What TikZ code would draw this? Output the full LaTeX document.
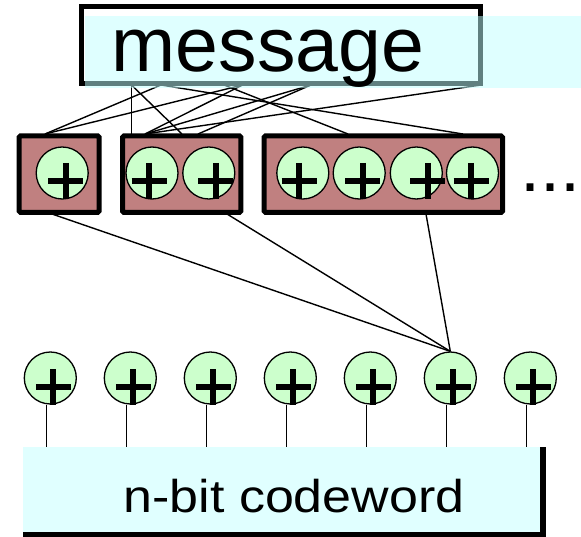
\documentclass[tikz,border=0pt]{standalone}
\usepackage{fontspec}
\setmainfont{Liberation Sans}
\definecolor{msgcyan}{RGB}{192,255,255}
\definecolor{boxcyan}{RGB}{224,255,255}
\definecolor{grpred}{RGB}{192,128,128}
\definecolor{xorgreen}{RGB}{204,255,204}
% a bold plus sign centred at (#1,#2)
\newcommand\xorplus[2]{\draw[line width=6pt] (#1-17.5,#2) -- (#1+17.5,#2) (#1,#2-18) -- (#1,#2+18);}
\begin{document}
\begin{tikzpicture}[x=1pt,y=-1pt,
  xorc/.style={circle,draw=black,line width=1.3pt,fill=xorgreen,minimum size=52pt,inner sep=0pt},
  grp/.style={draw=black,line width=5pt,fill=grpred,rounded corners=1.5pt,inner sep=0pt},
  wire/.style={draw=black,line width=1.4pt}]
\useasboundingbox (0,0) rectangle (581,537);

% attachment points under the message box
\coordinate (m1) at (131.5,85);
\coordinate (m2) at (161,85);
\coordinate (m3) at (224,85);
\coordinate (m4) at (242.6,85);
\coordinate (m5) at (311,85);
\coordinate (m6) at (481,85);
% attachment points on top of the groups
\coordinate (t1)  at (45,134);
\coordinate (t2a) at (131.5,134);
\coordinate (t2b) at (145,134);
\coordinate (t2c) at (182,134);
\coordinate (t2d) at (198,134);
\coordinate (t3a) at (348,134);
\coordinate (t3b) at (463,134);
% attachment points under the groups
\coordinate (u1) at (52,214);
\coordinate (u2) at (227,214);
\coordinate (u3) at (426,214);

% bottom row of xor gates (placed first so wires can refer to them)
\foreach \k in {0,...,6}{
  \node[xorc] (b\k) at (50.3+80*\k,378) {};
}

% message -> groups
\draw[wire] (m1) -- (t2a);
\draw[wire] (m1) -- (t2c);
\draw[wire] (m2) -- (t1);
\draw[wire] (m2) -- (t3b);
\draw[wire] (m3) -- (t3a);
\draw[wire] (m4) -- (t1);
\draw[wire] (m4) -- (t2b);
\draw[wire] (m5) -- (t2b);
\draw[wire] (m5) -- (t2d);
\draw[wire] (m6) -- (t2b);
% groups -> one codeword bit
\draw[wire] (u1) -- (b5.north);
\draw[wire] (u2) -- (b5.north);
\draw[wire] (u3) -- (b5.north);

% message box: black frame under a translucent cyan band
\draw[line width=5pt] (81.5,6.5) rectangle (480.5,83.5);
\fill[msgcyan,opacity=0.5] (85,16) rectangle (581,88);
\node[inner sep=0pt,anchor=base,font=\fontsize{77}{77}\selectfont] (msg) at (268,71.7) {message};

% groups of xor gates
\node[grp,minimum width=80pt,minimum height=76.7pt] (g1) at (59.2,174.15) {};
\node[grp,minimum width=118.3pt,minimum height=76.7pt] (g2) at (181.65,174.15) {};
\node[grp,minimum width=238.3pt,minimum height=76.7pt] (g3) at (383.35,174.15) {};

\node[xorc] (c11) at (62.2,173) {};
\node[xorc] (c21) at (152,173) {};
\node[xorc] (c22) at (208.8,173) {};
\node[xorc] (c31) at (302.8,173) {};
\node[xorc] (c32) at (359.2,173) {};
\node[xorc] (c33) at (416.3,173) {};
\node[xorc] (c34) at (472.5,173) {};
\xorplus{65.5}{181}
\xorplus{149}{181}
\xorplus{215.8}{181}
\xorplus{299}{181}
\xorplus{362.8}{181}
\xorplus{427.5}{181}
\xorplus{471}{181}

\node[inner sep=0pt,anchor=base west,font=\fontsize{72}{72}\selectfont] (dots) at (520,191.7) {...};

% codeword box with its dark shadow
\fill[black] (22.7,447) rectangle (546,537);
\node[fill=boxcyan,inner sep=0pt,minimum width=517.3pt,minimum height=85pt,anchor=north west] (cw) at (22.7,447) {};
\node[inner sep=0pt,anchor=base,xscale=1.13,font=\fontsize{46}{46}\selectfont] (cwt) at (294,512) {n-bit codeword};

% bottom gates: plus signs and their wires into the codeword
\foreach \k in {0,...,6}{
  \xorplus{53.3+80*\k}{387}
  \draw[wire] ([xshift=-3.6pt]b\k.south) -- ([xshift=-3.6pt]b\k.south |- cw.north);
}
\end{tikzpicture}
\end{document}
